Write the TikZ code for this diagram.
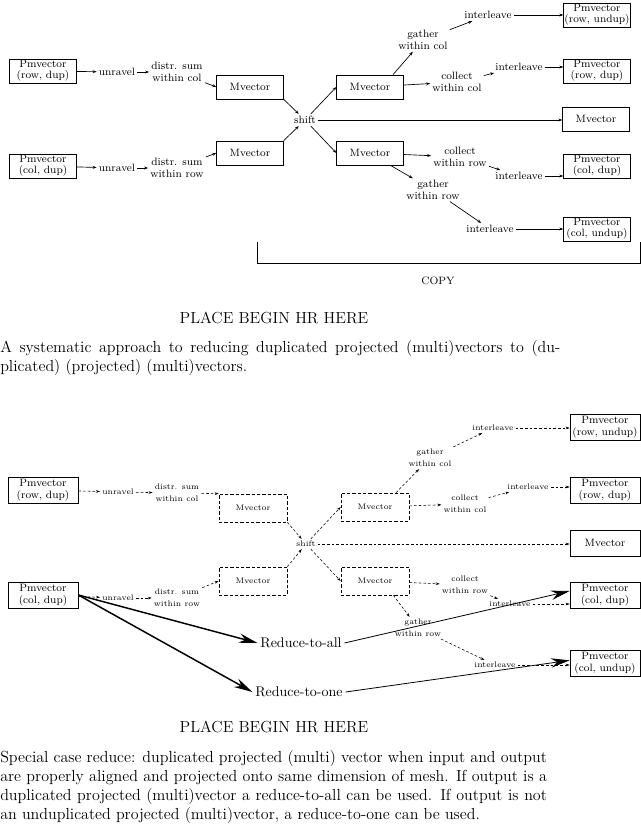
\documentclass[tikz,border=0pt]{standalone}
\usetikzlibrary{arrows.meta}
\begin{document}
\begin{tikzpicture}[x=0.75pt,y=-0.75pt,
  tbox/.style={draw, line width=0.5pt, minimum width=50pt, minimum height=18pt, inner sep=0pt, align=center, font=\fontsize{8}{8.5}\selectfont},
  tlab/.style={inner sep=1.5pt, align=center, font=\fontsize{8}{8.5}\selectfont},
  bbox/.style={draw, line width=0.5pt, minimum width=52.5pt, minimum height=19.5pt, inner sep=0pt, align=center, font=\fontsize{8}{9}\selectfont},
  dbox/.style={draw, line width=0.5pt, dash pattern=on 2.5pt off 1.5pt, minimum width=51pt, minimum height=21pt, inner sep=0pt, align=center, font=\fontsize{6}{7}\selectfont},
  slab/.style={inner sep=1.5pt, align=center, font=\fontsize{6}{9}\selectfont},
  biglab/.style={inner sep=2pt, font=\fontsize{10.5}{12}\selectfont},
  capt/.style={inner sep=0pt, anchor=west, font=\fontsize{12}{14}\selectfont},
  tarr/.style={line width=0.5pt, -{Stealth[length=3pt,width=2.2pt]}},
  darr/.style={line width=0.4pt, dash pattern=on 2pt off 1.5pt, -{Stealth[length=3pt,width=2pt]}},
  karr/.style={line width=1.1pt, -{Stealth[length=14pt,width=7pt]}}
]
\useasboundingbox (0,0) rectangle (641,830);

% ---------------- top diagram ----------------
\node[tbox] (p1) at (43,71) {Pmvector\\(row, dup)};
\node[tlab] (u1) at (117,72) {unravel};
\node[tlab] (d1) at (177,72) {distr. sum\\within col};
\node[tbox] (m1) at (250,87) {Mvector};
\node[tbox] (p2) at (43,166) {Pmvector\\(col, dup)};
\node[tlab] (u2) at (117,168) {unravel};
\node[tlab] (d2) at (177,168) {distr. sum\\within row};
\node[tbox] (m2) at (250,153) {Mvector};
\node[tlab] (sh) at (305,120) {shift};
\node[tbox] (m3) at (370,87) {Mvector};
\node[tbox] (m4) at (370,153) {Mvector};
\node[tbox] (m5) at (596,119) {Mvector};
\node[tlab] (g1) at (423,40) {gather\\within col};
\node[tlab] (i1) at (488,15) {interleave};
\node[tbox] (p3) at (597,15) {Pmvector\\(row, undup)};
\node[tlab] (c1) at (457,82) {collect\\within col};
\node[tlab] (i2) at (519,67) {interleave};
\node[tbox] (p4) at (597,71) {Pmvector\\(row, dup)};
\node[tlab] (c2) at (460,157) {collect\\within row};
\node[tlab] (i3) at (519,176) {interleave};
\node[tbox] (p5) at (597,166) {Pmvector\\(col, dup)};
\node[tlab] (g2) at (433,190) {gather\\within row};
\node[tlab] (i4) at (490,229) {interleave};
\node[tbox] (p6) at (597,229) {Pmvector\\(col, undup)};

\draw[tarr] (p1) -- (u1);
\draw[tarr] (u1) -- (d1);
\draw[tarr] (d1) -- (m1.west);
\draw[tarr] (p2) -- (u2);
\draw[tarr] (u2) -- (d2);
\draw[tarr] (d2) -- (m2.west);
\draw[tarr] (m1.south east) -- (sh);
\draw[tarr] (m2.north east) -- (sh);
\draw[tarr] (sh) -- (m3.west);
\draw[tarr] (sh) -- (m4.west);
\draw[tarr] (sh.east) -- (sh.east -| m5.west);
\draw[tarr] ([xshift=-8pt]m3.north east) -- (g1);
\draw[tarr] (g1) -- (i1);
\draw[tarr] (i1) -- (i1 -| p3.west);
\draw[tarr] (m3) -- (c1);
\draw[tarr] (c1) -- (i2);
\draw[tarr] (i2) -- (i2 -| p4.west);
\draw[tarr] (m4) -- (c2);
\draw[tarr] (c2) -- (i3);
\draw[tarr] (i3) -- (i3 -| p5.west);
\draw[tarr] ([xshift=-10pt]m4.south east) -- (g2);
\draw[tarr] (g2) -- (i4);
\draw[tarr] (i4) -- (i4 -| p6.west);

\coordinate (cb1) at (257,242);
\coordinate (cb2) at (640,242);
\coordinate (cb3) at (640,263);
\draw[line width=0.5pt] (cb1) |- (cb3) -- (cb2);
\node[font=\fontsize{8}{9}\selectfont] (copy) at (438,281) {COPY};

\node[font=\fontsize{12}{14}\selectfont, inner sep=0pt] (ph1) at (274,318) {PLACE BEGIN HR HERE};
\node[capt] (c1a) at (0,349) {\hbox to 420pt{A systematic approach to reducing duplicated projected (multi)vectors to (du-}};
\node[capt] (c1b) at (0,368) {plicated) (projected) (multi)vectors.};

% ---------------- bottom diagram ----------------
\node[bbox] (q1) at (43,490) {Pmvector\\(row, dup)};
\node[slab] (v1) at (118,492) {unravel};
\node[slab] (e1) at (177,493) {distr. sum\\within col};
\node[dbox] (n1) at (253,508) {Mvector};
\node[bbox] (q2) at (43,595) {Pmvector\\(col, dup)};
\node[slab] (v2) at (118,598) {unravel};
\node[slab] (e2) at (177,598) {distr. sum\\within row};
\node[dbox] (n2) at (253,581) {Mvector};
\node[slab] (sh2) at (306,544) {shift};
\node[dbox] (n3) at (375,507) {Mvector};
\node[dbox] (n4) at (375,581) {Mvector};
\node[bbox] (q5) at (605,543) {Mvector};
\node[slab] (h1) at (430,458) {gather\\within col};
\node[slab] (j1) at (493,428) {interleave};
\node[bbox] (q3) at (605,427) {Pmvector\\(row, undup)};
\node[slab] (k1) at (465,504) {collect\\within col};
\node[slab] (j2) at (528,487) {interleave};
\node[bbox] (q4) at (605,490) {Pmvector\\(row, dup)};
\node[slab] (k2) at (465,585) {collect\\within row};
\node[slab] (j3) at (510,604) {interleave};
\node[bbox] (q6) at (605,595) {Pmvector\\(col, dup)};
\node[slab] (h2) at (418,628) {gather\\within row};
\node[slab] (j4) at (495,665) {interleave};
\node[bbox] (q7) at (605,663) {Pmvector\\(col, undup)};
\node[biglab] (ra) at (301,643) {Reduce-to-all};
\node[biglab] (ro) at (299,692) {Reduce-to-one};

\draw[darr] (q1) -- (v1);
\draw[darr] (v1) -- (e1);
\draw[darr] (e1) -- (n1.north west);
\draw[darr] (q2) -- (v2);
\draw[darr] (v2) -- (e2);
\draw[darr] (e2) -- (n2.west);
\draw[darr] (n1.south east) -- (sh2);
\draw[darr] (n2.north east) -- (sh2);
\draw[darr] (sh2) -- (n3.west);
\draw[darr] (sh2) -- (n4.west);
\draw[darr] (sh2.east) -- (sh2.east -| q5.west);
\draw[darr] ([xshift=-10pt]n3.north east) -- (h1);
\draw[darr] (h1) -- (j1);
\draw[darr] (j1) -- (j1 -| q3.west);
\draw[darr] (n3) -- (k1);
\draw[darr] (k1) -- (j2);
\draw[darr] (j2) -- (j2 -| q4.west);
\draw[darr] (n4) -- (k2);
\draw[darr] (k2) -- (j3);
\draw[darr] (j3) -- (j3 -| q6.west);
\draw[darr] ([xshift=-12pt]n4.south east) -- (h2);
\draw[darr] (h2) -- (j4);
\draw[darr] (j4) -- (j4 -| q7.west);

\draw[karr] (q2.east) -- (ra.west);
\draw[karr] (q2.east) -- (ro.west);
\draw[line width=0.6pt, -{Stealth[length=14pt,width=7pt]}] (ra.east) -- ([yshift=3pt]q6.west);
\draw[line width=0.6pt, -{Stealth[length=14pt,width=7pt]}] (ro.east) -- ([yshift=2pt]q7.west);

\node[font=\fontsize{12}{14}\selectfont, inner sep=0pt] (ph2) at (274,727) {PLACE BEGIN HR HERE};
\node[capt] (s1) at (0,758) {\hbox to 410pt{Special case reduce: duplicated projected (multi) vector when input and output}};
\node[capt] (s2) at (0,777) {\hbox to 410pt{are properly aligned and projected onto same dimension of mesh. If output is a}};
\node[capt] (s3) at (0,796) {\hbox to 410pt{duplicated projected (multi)vector a reduce-to-all can be used. If output is not}};
\node[capt] (s4) at (0,815) {an unduplicated projected (multi)vector, a reduce-to-one can be used.};
\end{tikzpicture}
\end{document}
